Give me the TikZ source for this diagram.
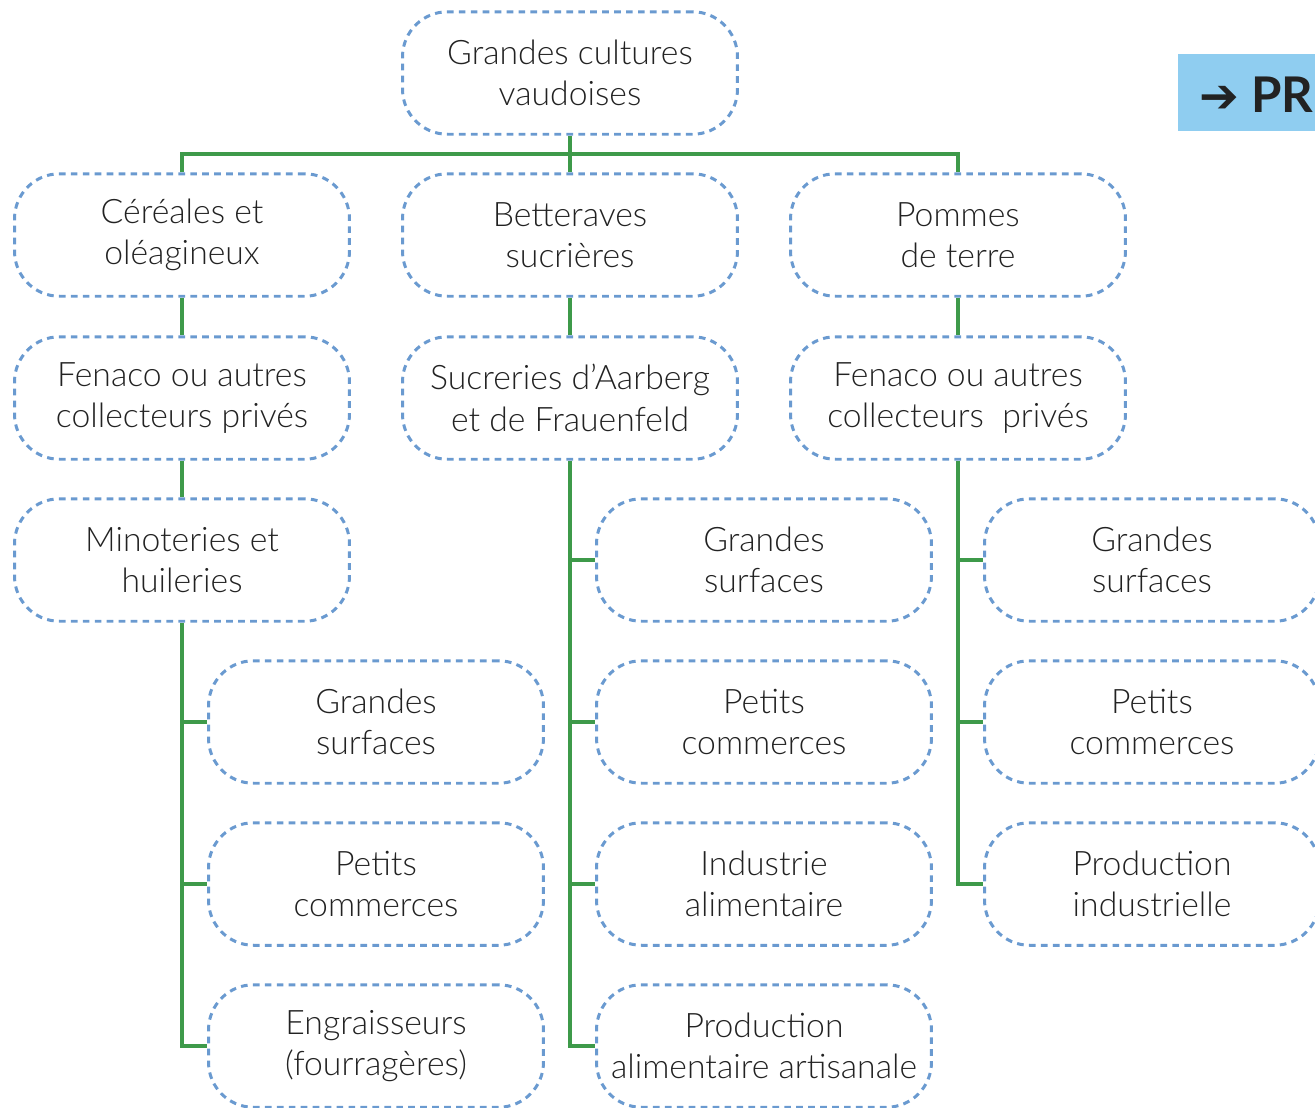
\documentclass[tikz,border=0pt]{standalone}
\usepackage{fontspec}
\setmainfont{Lato}[UprightFont=* Light, BoldFont=* Bold]
\newfontfamily\arrowfont{DejaVu Sans}
\usetikzlibrary{calc}
\definecolor{boxblue}{HTML}{6A9AD0}
\definecolor{linegreen}{HTML}{3E9A4A}
\definecolor{badgeblue}{HTML}{8FCDF0}
\definecolor{txt}{HTML}{222222}
\tikzset{
  box/.style={draw=boxblue, line width=1.7pt, dash pattern=on 3.8pt off 3.0pt,
    rounded corners=0.9cm, minimum width=6.7cm, minimum height=2.45cm,
    align=center, text=txt, font=\fontsize{19.2}{23.5}\selectfont, inner sep=0pt},
  conn/.style={draw=linegreen, line width=1.8pt}
}
\begin{document}
\begin{tikzpicture}[x=0.02cm,y=-0.02cm]
\useasboundingbox (0,0) rectangle (1315,1107);
\clip (0,0) rectangle (1315,1107);
% badge
\fill[badgeblue] (1178,54) rectangle (1330,131);
\node[anchor=west, inner sep=0pt, text=txt, font=\bfseries\fontsize{28}{30}\selectfont] (badge) at (1199,95) {{\arrowfont\bfseries\fontsize{27}{30}\selectfont ➔}\hspace{7pt}PR};
% nodes
\node[box] (top) at (570,73) {Grandes cultures\\vaudoises};
\node[box] (cer) at (182,235) {Céréales et\\oléagineux};
\node[box] (bet) at (570,235) {Betteraves\\sucrières};
\node[box] (pom) at (958,235) {Pommes\\de terre};
\node[box] (fen1) at (182,398) {Fenaco ou autres\\collecteurs privés};
\node[box] (suc) at (570,398) {Sucreries d’Aarberg\\et de Frauenfeld};
\node[box] (fen2) at (958,398) {Fenaco ou autres\\collecteurs\ \ privés};
\node[box] (min) at (182,560) {Minoteries et\\huileries};
\node[box] (l1) at (376,722) {Grandes\\surfaces};
\node[box] (l2) at (376,884) {Petits\\commerces};
\node[box] (l3) at (376,1046) {Engraisseurs\\(fourragères)};
\node[box] (m1) at (764,560) {Grandes\\surfaces};
\node[box] (m2) at (764,722) {Petits\\commerces};
\node[box] (m3) at (764,884) {Industrie\\alimentaire};
\node[box] (m4) at (764,1046) {Production\\alimentaire artisanale};
\node[box] (r1) at (1152,560) {Grandes\\surfaces};
\node[box] (r2) at (1152,722) {Petits\\commerces};
\node[box] (r3) at (1152,884) {Production\\industrielle};
% connectors
\coordinate (bar) at ($(top.south)!0.5!(bet.north)$);
\draw[conn] (top.south) -- (bet.north);
\draw[conn] (cer.north) -- (cer.north |- bar) -- (pom.north |- bar) -- (pom.north);
\draw[conn] (cer.south) -- (fen1.north);
\draw[conn] (bet.south) -- (suc.north);
\draw[conn] (pom.south) -- (fen2.north);
\draw[conn] (fen1.south) -- (min.north);
\draw[conn] (min.south) -- (min.south |- l3.west) -- (l3.west);
\draw[conn] (min.south |- l1.west) -- (l1.west);
\draw[conn] (min.south |- l2.west) -- (l2.west);
\draw[conn] (suc.south) -- (suc.south |- m4.west) -- (m4.west);
\draw[conn] (suc.south |- m1.west) -- (m1.west);
\draw[conn] (suc.south |- m2.west) -- (m2.west);
\draw[conn] (suc.south |- m3.west) -- (m3.west);
\draw[conn] (fen2.south) -- (fen2.south |- r3.west) -- (r3.west);
\draw[conn] (fen2.south |- r1.west) -- (r1.west);
\draw[conn] (fen2.south |- r2.west) -- (r2.west);
\end{tikzpicture}
\end{document}
